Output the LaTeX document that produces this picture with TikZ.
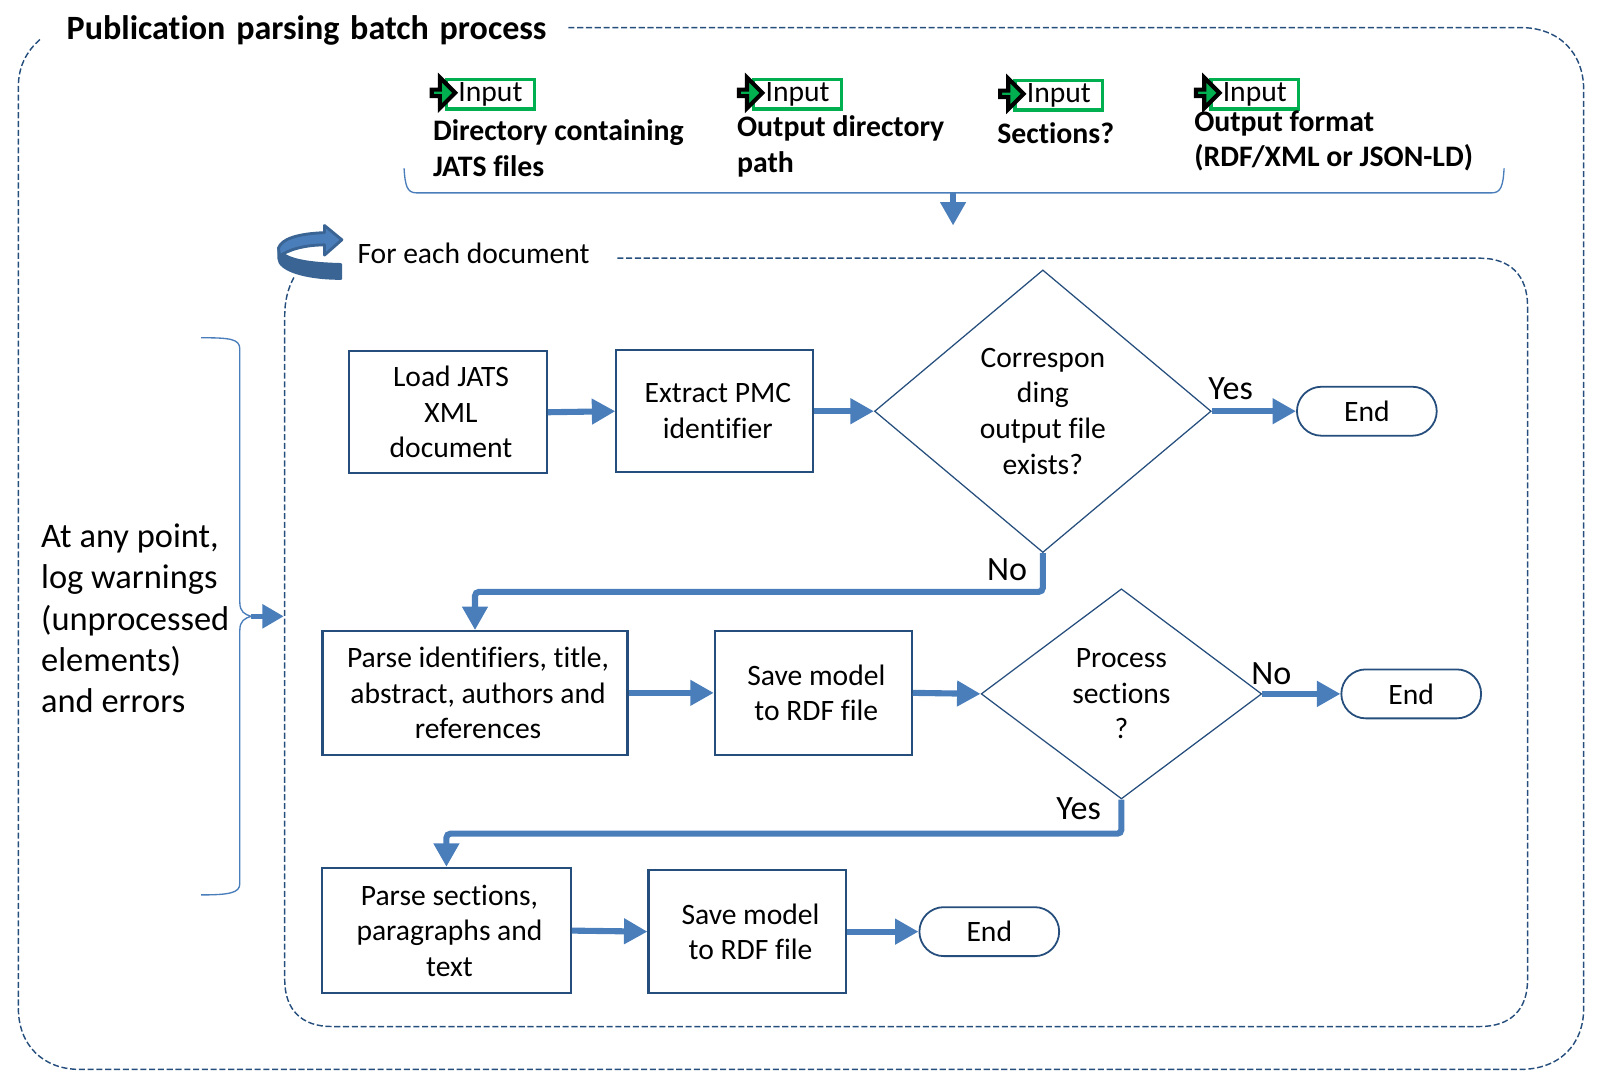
\documentclass[tikz,border=0pt]{standalone}
\usepackage{fontspec}
\setmainfont{Carlito}[Ligatures=NoCommon]
\usetikzlibrary{shapes.geometric,shapes.arrows,arrows.meta}
\definecolor{boxc}{HTML}{254E7D}
\definecolor{flowc}{HTML}{4A7EBB}
\definecolor{darkc}{HTML}{3A6494}
\definecolor{greenc}{HTML}{00B050}
\newcommand{\bodyf}{\fontsize{16.5}{19.85}\selectfont}
\newcommand{\shf}{\hspace*{0.12cm}}
\tikzset{
  x=0.02cm,y=-0.02cm,
  procbox/.style={draw=boxc,line width=1.15pt,rectangle,align=center,font=\bodyf,inner sep=0pt,minimum width=#1},
  decision/.style={draw=boxc,line width=0.7pt,diamond,align=center,font=\bodyf,inner sep=0pt},
  terminal/.style={draw=boxc,line width=1pt,rectangle,rounded corners=0.48cm,font=\bodyf,minimum width=2.74cm,minimum height=0.96cm,inner sep=0pt},
  flow/.style={draw=flowc,line width=3.4pt,-{Triangle[length=0.46cm,width=0.48cm]}},
  frame/.style={draw=boxc,line width=0.8pt,dash pattern=on 3.4pt off 1.5pt},
  bracket/.style={draw=flowc,line width=0.75pt},
  inbox/.style={draw=greenc,line width=1.9pt,rectangle,minimum width=1.72cm,minimum height=0.58cm,inner sep=0pt,font=\fontsize{16.5}{18}\selectfont},
  inarrow/.style={draw=black,fill=greenc,line width=2.3pt,single arrow,minimum width=0.6cm,minimum height=0.46cm,single arrow head extend=0.15cm,inner sep=0pt},
  inlabel/.style={anchor=north west,align=left,inner sep=0pt,font=\fontsize{16.6}{19.85}\selectfont\bfseries},
  branch/.style={font=\fontsize{19}{20}\selectfont,inner sep=0pt},
}
\begin{document}
\begin{tikzpicture}
\useasboundingbox (0,0) rectangle (1568,1064.3);
% outer frame
\coordinate (of1) at (557,27);
\coordinate (of2) at (40,38);
\draw[frame] (of1) -- (1490,27) .. controls (1528,27) and (1552,52) .. (1552,88) -- (1552,988) .. controls (1552,1024) and (1528,1048) .. (1490,1048) -- (78,1048) .. controls (42,1048) and (18,1024) .. (18,988) -- (18,85) .. controls (18,65) and (26,50) .. (of2);
\node[anchor=west,inner sep=0pt,font=\fontsize{19}{22}\selectfont\bfseries] (title) at (65,29.5) {Publication\hspace{0.06cm} parsing\hspace{0.06cm} batch\hspace{0.06cm} process};
% inputs
\node[inbox,anchor=north west] (i1) at (436,76) {Input};
\node[inarrow] (a1) at (433,91) {};
\node[inlabel] (l1) at (424,117) {Directory containing\\JATS files};
\node[inbox,anchor=north west] (i2) at (737,76) {Input};
\node[inarrow] (a2) at (734,91) {};
\node[inlabel] (l2) at (722,113) {Output directory\\path};
\node[inbox,anchor=north west] (i3) at (993,77) {Input};
\node[inarrow] (a3) at (990,92) {};
\node[inlabel] (l3) at (977,120) {Sections?};
\node[inbox,anchor=north west] (i4) at (1185,76) {Input};
\node[inarrow] (a4) at (1182,91) {};
\node[inlabel] (l4) at (1170,108) {Output format\\(RDF/XML or JSON-LD)};
% input bracket
\coordinate (ib1) at (396,165);
\coordinate (ib2) at (1474,165);
\coordinate (ibm) at (934,189);
\coordinate (ibt) at (934,221);
\draw[bracket] (ib1) .. controls (397,182) and (399,189) .. (408,189) -- (1462,189) .. controls (1471,189) and (1473,182) .. (ib2);
\draw[flow] (ibm) -- (ibt);
% inner frame
\coordinate (if1) at (605,253);
\coordinate (if2) at (288,272);
\draw[frame] (if1) -- (1450,253) .. controls (1480,253) and (1497,270) .. (1497,300) -- (1497,960) .. controls (1497,990) and (1480,1006) .. (1450,1006) -- (325,1006) .. controls (296,1006) and (279,990) .. (279,960) -- (279,310) .. controls (279,295) and (282,283) .. (if2);
% loop arrow
\fill[darkc,draw=darkc,line width=1.4pt,line join=round] (334,259) -- (334,273) .. controls (300,273) and (273,265) .. (273,253) -- (273,243) .. controls (276,252) and (292,258) .. (334,259) -- cycle;
\fill[flowc,draw=darkc,line width=1.6pt,line join=round] (273,243) .. controls (276,234) and (292,229) .. (318,228) -- (318,221) -- (335,235) -- (318,250) -- (318,240) .. controls (298,240) and (282,245) .. (274,251) -- cycle;
\node[anchor=west,inner sep=0pt,font=\bodyf] (each) at (350,248) {For each document};
% left note
\node[anchor=west,align=left,inner sep=0pt,font=\fontsize{19.2}{23}\selectfont] (note) at (40,606) {At any point,\\log warnings\\(unprocessed\\elements)\\and errors};
\coordinate (lb1) at (197,331);
\coordinate (lb2) at (197,877);
\coordinate (lbm) at (246,604);
\coordinate (lbt) at (278,604);
\draw[bracket] (lb1) .. controls (225,331) and (235,332) .. (235,342) -- (235,590) .. controls (235,600) and (240,602) .. (lbm) .. controls (240,606) and (235,608) .. (235,618) -- (235,866) .. controls (235,875) and (225,877) .. (lb2);
\draw[flow,line width=2.6pt,-{Triangle[length=0.42cm,width=0.46cm]}] (lbm) -- (lbt);
% row 1
\node[procbox=3.88cm,minimum height=2.4cm] (load) at (439,404) {\shf Load JATS\\\shf XML\\\shf document};
\node[procbox=3.86cm,minimum height=2.4cm] (pmc) at (700.5,403) {\shf Extract PMC\\\shf identifier};
\node[decision,minimum width=6.6cm,minimum height=5.54cm] (corr) at (1022,403) {Correspon\\ding\\output file\\exists?};
\node[terminal] (end1) at (1339.5,403) {End};
% row 2
\node[procbox=5.98cm,minimum height=2.42cm] (parse) at (465.5,679) {\shf Parse identifiers, title,\\\shf abstract, authors and\\\shf references};
\node[procbox=3.86cm,minimum height=2.42cm] (save1) at (797,679) {\shf Save model\\\shf to RDF file};
\node[decision,minimum width=5.5cm,minimum height=4.12cm] (proc) at (1099,680) {Process\\sections\\?};
\node[terminal] (end2) at (1383,680) {End};
% row 3
\node[procbox=4.88cm,minimum height=2.46cm] (sect) at (437.5,912) {\shf Parse sections,\\\shf paragraphs and\\\shf text};
\node[procbox=3.88cm,minimum height=2.42cm] (save2) at (732.5,913) {\shf Save model\\\shf to RDF file};
\node[terminal] (end3) at (969.5,913) {End};
% connectors
\draw[flow] (load.east) -- (pmc.west);
\draw[flow] (pmc.east) -- (corr.west);
\draw[flow] (corr.east) -- (end1.west);
\draw[flow,rounded corners=0.08cm] (corr.south) -- (1022,580) -- (465.5,580) -- (parse.north);
\draw[flow] (parse.east) -- (save1.west);
\draw[flow] (save1.east) -- (proc.west);
\draw[flow] (proc.east) -- (end2.west);
\draw[flow,rounded corners=0.08cm] (proc.south) -- (1099,817) -- (437.5,817) -- (sect.north);
\draw[flow] (sect.east) -- (save2.west);
\draw[flow] (save2.east) -- (end3.west);
% branch labels
\node[branch] (y1) at (1206,381) {Yes};
\node[branch] (n1) at (987,558) {No};
\node[branch] (n2) at (1246,660) {No};
\node[branch] (y2) at (1057,793) {Yes};
\end{tikzpicture}
\end{document}
